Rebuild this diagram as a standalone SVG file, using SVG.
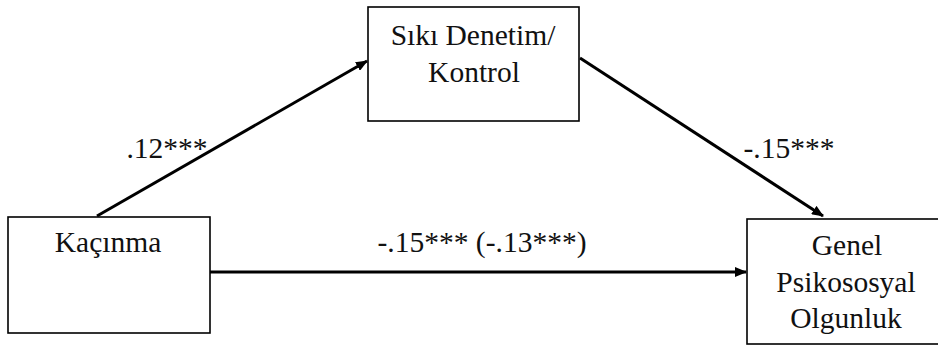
<svg xmlns="http://www.w3.org/2000/svg" width="938" height="346" viewBox="0 0 938 346">
<style>
.box{fill:#fff;stroke:#000;stroke-width:1.6}
.t{font-family:'Liberation Serif','DejaVu Serif',serif;font-size:29.5px;fill:#111;text-anchor:middle}
.c{stroke:#000;stroke-width:3;fill:none}
</style>
<defs>
<marker id="ah" viewBox="0 0 12 10" refX="11" refY="5" markerWidth="12" markerHeight="10" markerUnits="userSpaceOnUse" orient="auto">
<path d="M0,0 L12,5 L0,10 Z" fill="#000"/>
</marker>
</defs>
<rect width="938" height="346" fill="#fff"/>
<g id="connectors">
<line class="c" x1="97" y1="216" x2="367" y2="61" marker-end="url(#ah)"/>
<line class="c" x1="580" y1="58" x2="823" y2="216" marker-end="url(#ah)"/>
<line class="c" x1="205" y1="272" x2="746" y2="272" marker-end="url(#ah)"/>
<text class="t" x="167" y="158">.12***</text>
<text class="t" x="789" y="158">-.15***</text>
<text class="t" x="482" y="252">-.15*** (-.13***)</text>
</g>
<g id="node-siki">
<rect class="box" x="368" y="7" width="211" height="114"/>
<text class="t" x="473" y="45">Sıkı Denetim/</text>
<text class="t" x="474" y="82">Kontrol</text>
</g>
<g id="node-kacinma">
<rect class="box" x="8" y="217" width="202" height="116"/>
<text class="t" x="108" y="252">Kaçınma</text>
</g>
<g id="node-genel">
<rect class="box" x="747" y="219" width="200" height="125"/>
<text class="t" x="847" y="255">Genel</text>
<text class="t" x="846" y="292">Psikososyal</text>
<text class="t" x="846" y="328">Olgunluk</text>
</g>
</svg>
